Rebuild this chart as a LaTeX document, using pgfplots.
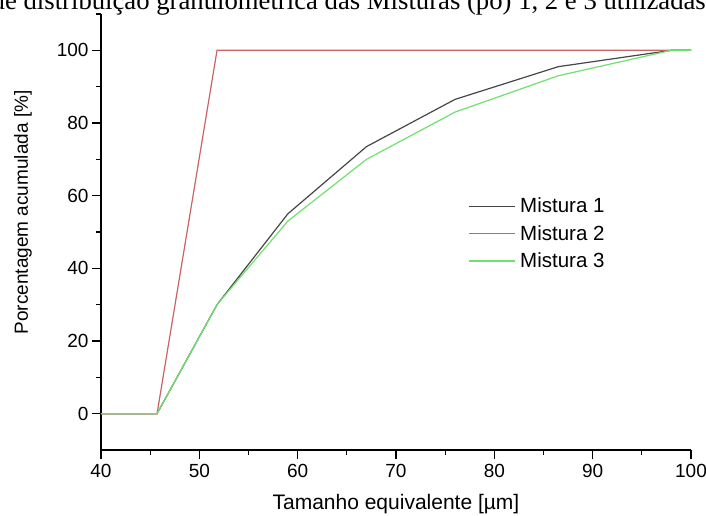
\documentclass[border=0pt]{standalone}
\usepackage{fontspec}
\setmainfont{Liberation Sans}
\newfontfamily\titlefont{Liberation Serif}
\usepackage{pgfplots}
\pgfplotsset{compat=1.18}
\definecolor{m1}{RGB}{70,70,70}
\definecolor{m2}{RGB}{200,100,100}
\definecolor{m3}{RGB}{110,225,110}
\begin{document}
\begin{tikzpicture}
\begin{axis}[
  scale only axis, width=590pt, height=436pt,
  xmin=40, xmax=100, ymin=-10, ymax=110,
  axis x line*=bottom, axis y line*=left,
  axis line style={line width=1.5pt, black},
  xtick={40,50,...,100}, minor xtick={45,55,...,95},
  ytick={0,20,...,100}, minor ytick={10,30,...,110},
  tick align=outside, major tick length=9pt, minor tick length=5pt,
  every tick/.style={black, line width=1.3pt},
  tick label style={font=\fontsize{19}{22}\selectfont},
  xticklabel style={yshift=-2pt},
  /pgf/number format/assume math mode=true,
  xlabel={Tamanho equivalente [µm]},
  ylabel={Porcentagem acumulada [\%]},
  xlabel style={font=\fontsize{21}{24}\selectfont, yshift=-9pt},
  ylabel style={font=\fontsize{19}{22}\selectfont, at={(ticklabel cs:0.545)}, yshift=18pt},
  legend style={at={(axis cs:77,60.5)}, anchor=north west, draw=none, fill=none,
    font=\fontsize{20.5}{24}\selectfont, row sep=7pt},
  legend cell align=left,
  legend image code/.code={\draw[#1] (0pt,0pt) -- (46pt,0pt);},
  legend style={nodes={inner xsep=5pt}},
]
\addplot[m1, line width=1.2pt] coordinates {
  (40,0) (45.7,0) (51.8,30) (59,55) (67,73.5) (76,86.5) (86.5,95.5) (98,100) (100,100)};
\addlegendentry{Mistura 1}
\addplot[m2, line width=1.2pt] coordinates {
  (40,0) (45.7,0) (51.8,100) (100,100)};
\addlegendentry{Mistura 2}
\addplot[m3, line width=1.2pt] coordinates {
  (40,0) (45.7,0) (51.8,30) (59,53) (67,70) (76,83) (86.5,93) (98,100) (100,100)};
\addlegendentry{Mistura 3}
\coordinate (bl) at (rel axis cs:0,0);
\coordinate (tr) at (rel axis cs:1,1);
\end{axis}
\node[anchor=base east, font=\titlefont\fontsize{26.7}{30}\selectfont, inner sep=0pt]
  at ([shift={(15pt,4pt)}]tr) {Curvas de distribuição granulométrica das Misturas (pó) 1, 2 e 3 utilizadas};
\pgfresetboundingbox
\path[use as bounding box] ([shift={(-101pt,-65pt)}]bl) rectangle ([shift={(15pt,14pt)}]tr);
\end{tikzpicture}
\end{document}
